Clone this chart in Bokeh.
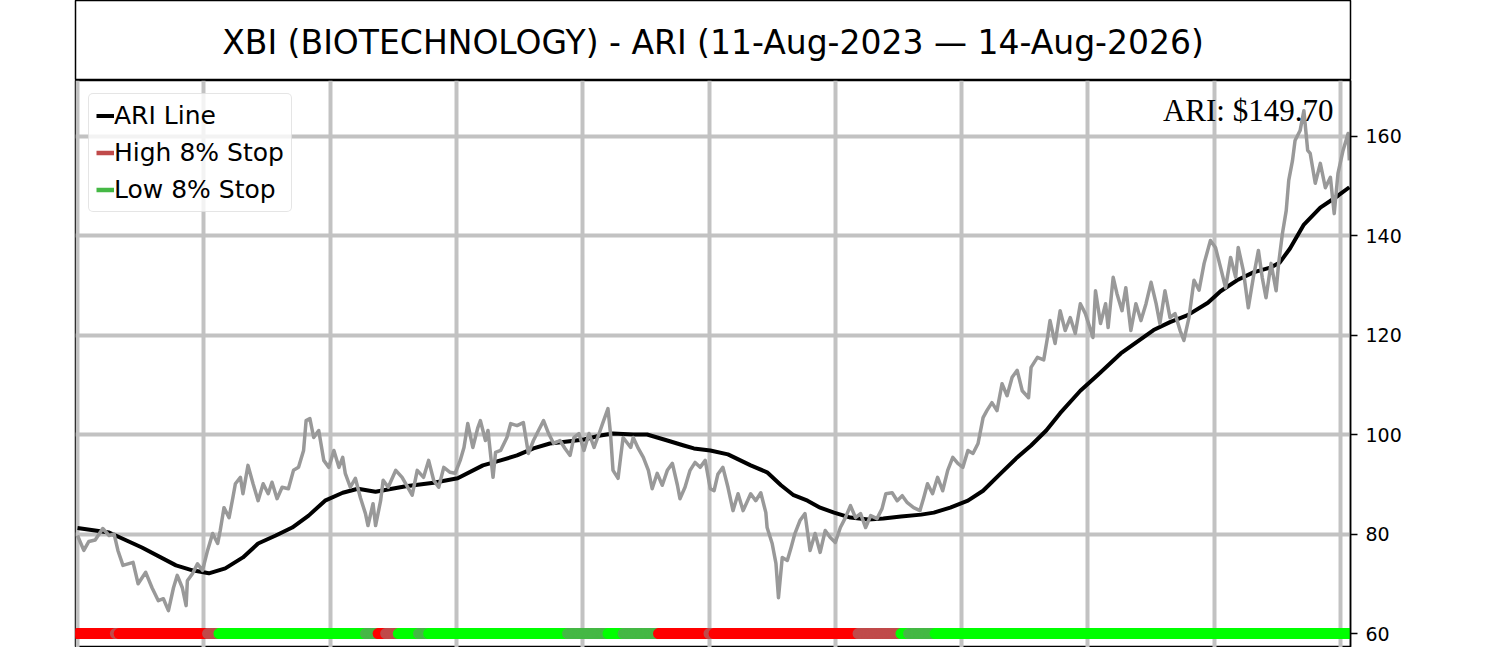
import numpy as np
from bokeh.plotting import figure
from bokeh.models import Range1d, FixedTicker, Grid, Label, Legend, LegendItem
from bokeh.layouts import column
from bokeh.embed import file_html
from bokeh.resources import INLINE
from bokeh.core.properties import value

# ---------------- data ----------------
title_text = "XBI (BIOTECHNOLOGY) - ARI (11-Aug-2023 \u2014 14-Aug-2026)"
y_ticks = [60, 80, 100, 120, 140, 160]
x_ticks = [0, 100, 200, 300, 400, 500, 600, 700, 800, 900, 1000]

price_day = [
    0, 5, 9, 14, 20, 25, 29, 32, 36, 40, 44, 48, 54, 59, 64, 68, 72, 76, 79, 83,
    86, 87, 91, 95, 99, 103, 107, 111, 113, 116, 120, 123, 125, 129, 131, 135, 139, 143, 147, 151,
    154, 158, 162, 167, 171, 175, 179, 181, 184, 187, 191, 195, 199, 203, 207, 210, 212, 216, 220, 224,
    228, 230, 234, 236, 240, 242, 246, 252, 257, 265, 269, 274, 278, 282, 286, 290, 295, 299, 303, 306,
    309, 313, 317, 319, 323, 325, 329, 331, 335, 340, 343, 348, 353, 357, 361, 365, 369, 373, 377, 382,
    386, 390, 393, 397, 401, 405, 409, 413, 416, 420, 422, 424, 428, 430, 432, 438, 440, 444, 448, 452,
    455, 459, 463, 467, 471, 475, 477, 481, 485, 489, 493, 497, 501, 504, 507, 511, 515, 519, 523, 527,
    533, 537, 541, 545, 546, 550, 553, 555, 558, 562, 565, 568, 572, 576, 580, 584, 588, 592, 596, 600,
    604, 608, 612, 616, 620, 624, 628, 633, 637, 640, 645, 649, 653, 657, 662, 667, 670, 673, 677, 681,
    685, 689, 693, 697, 701, 705, 709, 713, 715, 717, 720, 724, 728, 732, 736, 740, 744, 748, 753, 755,
    760, 765, 768, 770, 774, 778, 782, 786, 790, 794, 798, 804, 806, 810, 814, 816, 820, 823, 827, 830,
    834, 838, 842, 846, 850, 854, 857, 861, 865, 869, 873, 876, 880, 884, 888, 892, 897, 901, 905, 909,
    913, 917, 919, 923, 927, 931, 935, 938, 941, 945, 949, 951, 954, 957, 959, 962, 964, 968, 971, 974,
    976, 980, 984, 988, 992, 995, 998, 1002, 1006, 1007,
]
price_close = [
    79.7, 76.7, 78.5, 78.8, 81.1, 79.7, 80.0, 76.7, 73.7, 74.0, 74.3, 70.0, 72.3, 69.2, 66.6, 67.0, 64.6, 69.2, 71.7, 69.2,
    65.6, 70.6, 72.0, 74.0, 72.7, 76.7, 80.1, 78.1, 80.7, 85.3, 83.3, 87.3, 90.1, 91.4, 88.1, 93.8, 90.1, 86.7, 90.1, 88.1,
    90.4, 87.1, 89.4, 89.1, 92.8, 93.4, 96.8, 102.8, 103.2, 99.4, 100.8, 94.8, 93.4, 96.8, 93.4, 95.4, 92.2, 89.4, 91.2, 87.3,
    84.1, 81.7, 86.1, 81.7, 86.7, 90.8, 89.4, 92.8, 91.4, 87.8, 92.8, 91.4, 94.8, 90.8, 89.4, 93.4, 92.4, 92.2, 94.8, 97.4,
    102.2, 97.4, 101.4, 102.8, 98.8, 100.8, 91.4, 96.4, 96.8, 99.4, 102.2, 101.8, 102.4, 96.2, 98.8, 100.8, 102.8, 100.2, 98.2, 98.8,
    97.2, 95.8, 99.4, 100.2, 96.8, 100.2, 97.4, 100.2, 102.4, 105.2, 100.2, 92.8, 91.2, 95.4, 99.4, 97.4, 99.4, 97.2, 95.4, 92.8,
    89.1, 92.2, 89.8, 92.8, 94.2, 89.8, 87.1, 89.4, 92.8, 94.4, 93.4, 94.8, 89.1, 88.7, 92.0, 93.4, 89.4, 84.7, 88.1, 84.7,
    88.1, 86.7, 88.3, 84.3, 81.3, 78.1, 74.1, 67.2, 75.3, 74.7, 77.3, 80.1, 82.7, 84.1, 76.7, 80.1, 76.3, 80.7, 79.3, 78.3,
    81.3, 83.3, 85.7, 83.3, 84.1, 81.3, 83.7, 83.1, 85.1, 88.1, 88.3, 86.7, 87.7, 86.3, 85.3, 84.7, 87.3, 90.1, 88.1, 91.4,
    88.7, 92.8, 95.4, 94.2, 93.4, 96.8, 96.2, 98.2, 100.8, 103.4, 104.8, 106.4, 104.8, 110.2, 107.8, 111.5, 112.9, 108.8, 107.4, 113.5,
    115.5, 115.0, 119.5, 122.9, 118.3, 124.9, 120.9, 123.5, 120.3, 126.3, 124.3, 119.5, 128.9, 122.3, 126.3, 121.5, 131.6, 128.3, 124.9, 129.5,
    120.9, 126.3, 122.9, 126.3, 130.6, 126.3, 122.3, 128.9, 123.5, 124.3, 120.9, 118.9, 123.5, 131.0, 129.0, 134.4, 139.0, 137.6, 133.6, 129.5,
    135.6, 131.6, 137.6, 133.0, 125.5, 131.6, 137.0, 131.6, 127.5, 134.4, 128.9, 134.4, 140.4, 145.0, 151.1, 155.1, 159.1, 161.1, 165.1, 157.1,
    156.5, 150.5, 154.5, 149.6, 151.7, 144.4, 152.5, 157.1, 160.5, 155.1,
]

ari_day = [
    0, 25, 51, 78, 91, 104, 117, 131, 143, 157, 170, 183, 196, 210, 222, 236, 249, 260, 282, 301,
    321, 335, 348, 361, 374, 388, 401, 414, 424, 440, 451, 467, 480, 488, 501, 515, 533, 546, 557, 567,
    578, 588, 599, 612, 626, 638, 652, 668, 678, 691, 705, 717, 731, 744, 755, 767, 778, 794, 808, 826,
    852, 865, 879, 895, 905, 918, 931, 945, 952, 960, 971, 984, 998, 1007,
]
ari_value = [
    81.2, 80.3, 77.3, 73.7, 72.7, 72.1, 73.1, 75.3, 78.1, 79.7, 81.3, 83.7, 86.7, 88.3, 89.1, 88.5, 89.1, 89.6, 90.3, 91.2,
    93.8, 94.8, 95.8, 97.2, 98.2, 98.6, 99.0, 99.8, 100.2, 100.0, 100.0, 98.8, 97.8, 97.2, 96.8, 96.0, 93.8, 92.4, 89.8, 87.8,
    86.7, 85.3, 84.3, 83.3, 82.9, 83.1, 83.5, 83.9, 84.3, 85.3, 86.7, 88.7, 92.2, 95.4, 97.8, 100.8, 104.3, 108.8, 112.0, 116.3,
    121.0, 122.6, 124.0, 126.5, 128.8, 131.0, 132.6, 133.6, 134.6, 137.4, 142.2, 145.6, 148.0, 149.7,
]

# stop-status periods (first day of each period) and their state
stop_start = [0, 30, 33, 103, 112, 228, 238, 244, 254, 270, 278, 388, 420, 432, 460, 500, 504, 618, 652, 658, 679]
stop_state = ["high", "high_weak", "high", "high_weak", "low", "low_weak", "high", "high_weak", "low", "low_weak",
              "low", "low_weak", "low", "low_weak", "high", "high_weak", "high", "high_weak", "low", "low_weak", "low"]
last_day = 1007
stop_level = 60

assert len(price_day) == len(price_close)
assert len(ari_day) == len(ari_value)

state_color = {"high": "#ff0000", "high_weak": "#c04a4a", "low": "#00ff00", "low_weak": "#45b845"}

# expand periods into one dot per day
ends = stop_start[1:] + [last_day + 1]
dot_day, dot_color = [], []
for s, e, st in zip(stop_start, ends, stop_state):
    for d in range(s, e):
        dot_day.append(d)
        dot_color.append(state_color[st])

FONT = "DejaVu Sans"
W = 1490
LEFT = 75
RIGHT = W - 1350
GRID_COLOR = "#c2c2c2"

# ---------------- title box ----------------
tf = figure(width=W, height=80, x_range=Range1d(0, 1), y_range=Range1d(0, 80),
            output_backend="svg", toolbar_location=None,
            x_axis_location=None, y_axis_location=None,
            min_border_left=LEFT, min_border_right=RIGHT, min_border_top=0, min_border_bottom=0)
tf.grid.visible = False
tf.outline_line_color = "black"
tf.outline_line_width = 1.5
tf.text(x=[0.5], y=[38], text=[title_text], text_align="center", text_baseline="alphabetic",
        text_font=value(FONT), text_font_size="33px", text_color="black")

# ---------------- main chart ----------------
p = figure(width=W, height=567,
           x_range=Range1d(-1.58, 1007.9), y_range=Range1d(57.19, 171.16),
           y_axis_location="right", x_axis_location=None,
           output_backend="svg", toolbar_location=None,
           min_border_left=LEFT, min_border_right=RIGHT, min_border_top=0, min_border_bottom=0)
p.outline_line_color = "black"
p.outline_line_width = 1.5

p.yaxis.ticker = FixedTicker(ticks=y_ticks)
p.yaxis.major_label_text_font = FONT
p.yaxis.major_label_text_font_size = "19px"
p.yaxis.major_label_text_color = "black"
p.yaxis.major_label_standoff = 8
p.yaxis.axis_line_color = "black"
p.yaxis.axis_line_width = 1.5
p.yaxis.major_tick_line_color = "black"
p.yaxis.major_tick_line_width = 1.5
p.yaxis.major_tick_out = 7
p.yaxis.major_tick_in = 0
p.yaxis.minor_tick_line_color = None

# remove any default grids, then add our own two
for g in list(p.renderers) + list(p.center):
    if isinstance(g, Grid):
        g.visible = False
ygrid = Grid(dimension=1, ticker=FixedTicker(ticks=y_ticks), grid_line_color=GRID_COLOR,
             grid_line_width=4)
xgrid = Grid(dimension=0, ticker=FixedTicker(ticks=x_ticks), grid_line_color=GRID_COLOR,
             grid_line_width=4)
p.add_layout(ygrid)
p.add_layout(xgrid)

ari_r = p.line(ari_day, ari_value, line_color="black", line_width=4, line_join="round")
p.line(price_day, price_close, line_color="#999999", line_width=3.5, line_join="round")
p.scatter(x=dot_day, y=[stop_level] * len(dot_day), size=11, fill_color=dot_color,
          line_color=None, marker="circle")

hi_r = p.line([np.nan], [np.nan], line_color=state_color["high_weak"], line_width=4.5)
lo_r = p.line([np.nan], [np.nan], line_color=state_color["low_weak"], line_width=4.5)

legend = Legend(items=[LegendItem(label="ARI Line", renderers=[ari_r]),
                       LegendItem(label="High 8% Stop", renderers=[hi_r]),
                       LegendItem(label="Low 8% Stop", renderers=[lo_r])],
                location="top_left")
legend.label_text_font = FONT
legend.label_text_font_size = "25px"
legend.label_text_color = "black"
legend.glyph_width = 18
legend.glyph_height = 29
legend.label_height = 29
legend.label_standoff = 0
legend.spacing = 8
legend.padding = 7
legend.margin = 13
legend.border_line_color = "#cccccc"
legend.border_line_width = 1.5
legend.background_fill_color = "white"
legend.background_fill_alpha = 0.8
if "border_radius" in legend.properties():
    legend.border_radius = 5
p.add_layout(legend)

p.add_layout(Label(x=994.4, y=165.1, text=f"ARI: ${ari_value[-1]:.2f}", text_align="right",
                   text_baseline="alphabetic", text_font="Liberation Serif",
                   text_font_size="31px", text_color="black"))

layout = column(tf, p)
open("out.html", "w").write(file_html(layout, INLINE))
